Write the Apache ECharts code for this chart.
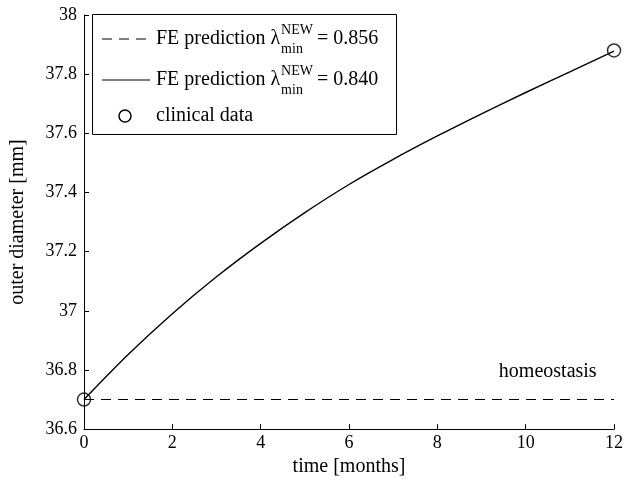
<!DOCTYPE html>
<html>
<head>
<meta charset="utf-8">
<script src="https://cdn.jsdelivr.net/npm/echarts@6/dist/echarts.min.js"></script>
<style>html,body{margin:0;padding:0;background:#fff;}#c{width:626px;height:482px;}</style>
</head>
<body>
<div id="c"></div>
<script>
const months = [0,1,2,3,4,5,6,7,8,9,10,11,12];
const fe840 = [36.70,36.852,36.99,37.115,37.228,37.332,37.427,37.512,37.591,37.666,37.738,37.808,37.878];
const fe856 = [[0,36.7],[12,36.7]];
const clinical = [[0,36.7],[12,37.88]];
const xTicks = [0,2,4,6,8,10,12];
const yTicks = [36.6,36.8,37,37.2,37.4,37.6,37.8,38];
const legendLabels = ['FE prediction λ', 'FE prediction λ', 'clinical data'];
const legendValues = ['= 0.856', '= 0.840', ''];
const homeostasisLabel = 'homeostasis';

const FONT = '"Liberation Serif","Times New Roman",serif';
const FS = 20, TFS = 18, SFS = 14;
const chart = echarts.init(document.getElementById('c'));
const cv = document.createElement('canvas').getContext('2d');
function tw(s, size){ cv.font = size + 'px ' + FONT; return cv.measureText(s).width; }

// legend graphics
const lg = [];
const boxL = 92, boxT = 14, boxR = 396, boxB = 134;
lg.push({type:'rect', shape:{x:boxL+0.5,y:boxT+0.5,width:boxR-boxL,height:boxB-boxT}, style:{fill:'#fff',stroke:'#000',lineWidth:1}});
const rowY = [39, 80, 116];
const tx = 156;
for (let i=0;i<3;i++){
  const y = rowY[i];
  if (i===0) lg.push({type:'line', shape:{x1:102,y1:y,x2:150,y2:y}, style:{stroke:'#000',lineWidth:1.2,lineDash:[10,7]}});
  if (i===1) lg.push({type:'line', shape:{x1:102,y1:y,x2:150,y2:y}, style:{stroke:'#000',lineWidth:1.2}});
  if (i===2) lg.push({type:'circle', shape:{cx:125,cy:y,r:6}, style:{fill:'none',stroke:'#000',lineWidth:1.5}});
  lg.push({type:'text', x:tx, y:y, style:{text:legendLabels[i], font:FS+'px '+FONT, fill:'#000', verticalAlign:'middle', align:'left'}});
  if (legendValues[i]){
    const w = tw(legendLabels[i], FS);
    const sx = tx + w + 1;
    lg.push({type:'text', x:sx, y:y-9, style:{text:'NEW', font:SFS+'px '+FONT, fill:'#000', verticalAlign:'middle'}});
    lg.push({type:'text', x:sx, y:y+10, style:{text:'min', font:SFS+'px '+FONT, fill:'#000', verticalAlign:'middle'}});
    const sw = Math.max(tw('NEW',SFS), tw('min',SFS));
    lg.push({type:'text', x:sx+sw+4, y:y, style:{text:legendValues[i], font:FS+'px '+FONT, fill:'#000', verticalAlign:'middle'}});
  }
}

const tickText = {color:'#000', fontFamily:FONT, fontSize:TFS};
const nameText = {color:'#000', fontFamily:FONT, fontSize:FS};
chart.setOption({
  animation:false,
  backgroundColor:'#fff',
  grid:{left:83, right:6, top:15, bottom:52, containLabel:false},
  xAxis:{type:'value', min:0, max:12, interval:2,
    name:'time [months]', nameLocation:'middle', nameGap:25, nameTextStyle:nameText,
    axisLine:{show:true, onZero:false, lineStyle:{color:'#000',width:1}},
    axisTick:{show:true, inside:true, length:5, lineStyle:{color:'#000'}},
    axisLabel:{...tickText, margin:5, formatter:v=>xTicks.includes(v)?String(v):''},
    splitLine:{show:false}},
  yAxis:{type:'value', min:36.6, max:38, interval:0.2,
    name:'outer diameter [mm]', nameLocation:'middle', nameGap:56, nameRotate:90, nameTextStyle:nameText,
    axisLine:{show:true, lineStyle:{color:'#000',width:1}},
    axisTick:{show:true, inside:true, length:5, lineStyle:{color:'#000'}},
    axisLabel:{...tickText, margin:7, formatter:v=>{const t=yTicks.find(k=>Math.abs(k-v)<1e-6);return t===undefined?'':String(t);}},
    splitLine:{show:false}},
  series:[
    {type:'line', name:'856', data:fe856, showSymbol:false, symbol:'none',
      lineStyle:{color:'#000', width:1.2, type:[10,7]}, z:2,
      markPoint:{symbol:'circle', symbolSize:0, silent:true,
        data:[{coord:[10.5,36.7], label:{show:true, formatter:homeostasisLabel, position:'top', distance:18, color:'#000', fontFamily:FONT, fontSize:FS}}]}},
    {type:'line', name:'840', data:months.map((m,i)=>[m,fe840[i]]), smooth:0.3, showSymbol:false, symbol:'none',
      lineStyle:{color:'#000', width:1.4}, z:3},
    {type:'scatter', name:'clinical', data:clinical, symbol:'circle', symbolSize:13,
      itemStyle:{color:'transparent', borderColor:'#000', borderWidth:1.5}, z:4}
  ],
  graphic: lg
});
</script>
</body>
</html>
